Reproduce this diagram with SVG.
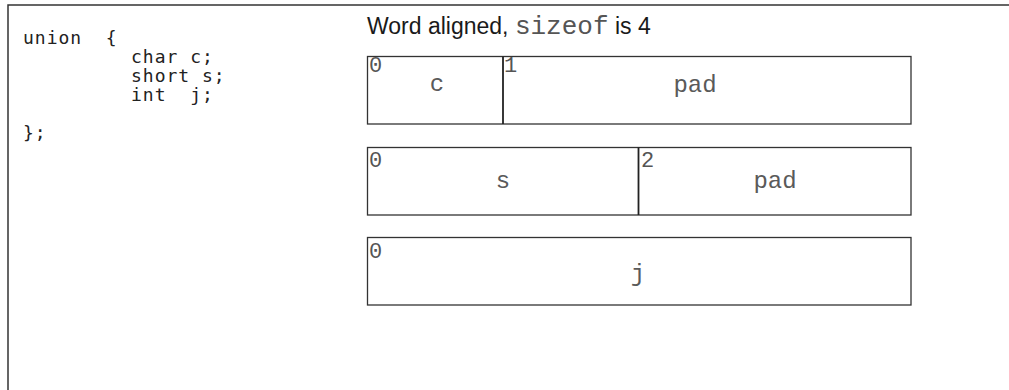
<svg xmlns="http://www.w3.org/2000/svg" width="1009" height="390" viewBox="0 0 1009 390">
<style>
.frame{fill:none;stroke:#333;stroke-width:1.5}
.box{fill:#fff;stroke:#333;stroke-width:1.3}
.div{stroke:#222;stroke-width:1.8}
.code{font-family:"DejaVu Sans Mono",monospace;font-size:18px;letter-spacing:1px;fill:#222}
.title{font-family:"Liberation Sans",Arial,sans-serif;font-size:23px;fill:#1a1a1a}
.mono{font-family:"Liberation Mono","Courier New",monospace;fill:#555}
.lbl{font-family:"Liberation Mono","Courier New",monospace;font-size:22px;fill:#555}
.fld{font-family:"Liberation Mono","Courier New",monospace;font-size:24px;fill:#5a5a5a;text-anchor:middle}
</style>
<rect width="1009" height="390" fill="#fff"/>
<path class="frame" d="M8 390 V5 H1009"/>
<g id="code">
<text class="code" x="23" y="44" xml:space="preserve">union  {</text>
<text class="code" x="131" y="63">char c;</text>
<text class="code" x="131" y="82">short s;</text>
<text class="code" x="131" y="101" xml:space="preserve">int  j;</text>
<text class="code" x="23" y="139">};</text>
</g>
<g id="title">
<text class="title" x="367" y="34">Word aligned, <tspan class="mono" font-size="26">sizeof</tspan> is 4</text>
</g>
<g id="row-char">
<rect class="box" x="367.5" y="56.5" width="543.5" height="67.5"/>
<line class="div" x1="503" y1="56.5" x2="503" y2="124"/>
<text class="lbl" x="369" y="72">0</text>
<text class="fld" x="437" y="91">c</text>
<text class="lbl" x="504" y="72">1</text>
<text class="fld" x="695" y="92">pad</text>
</g>
<g id="row-short">
<rect class="box" x="367.5" y="147.5" width="543.5" height="67.5"/>
<line class="div" x1="638.5" y1="147.5" x2="638.5" y2="215"/>
<text class="lbl" x="369" y="167">0</text>
<text class="fld" x="503" y="188">s</text>
<text class="lbl" x="641" y="167">2</text>
<text class="fld" x="775" y="188">pad</text>
</g>
<g id="row-int">
<rect class="box" x="367.5" y="237.5" width="543.5" height="67.5"/>
<text class="lbl" x="369" y="258">0</text>
<text class="fld" x="638" y="281">j</text>
</g>
<g id="connectors"/>
</svg>
